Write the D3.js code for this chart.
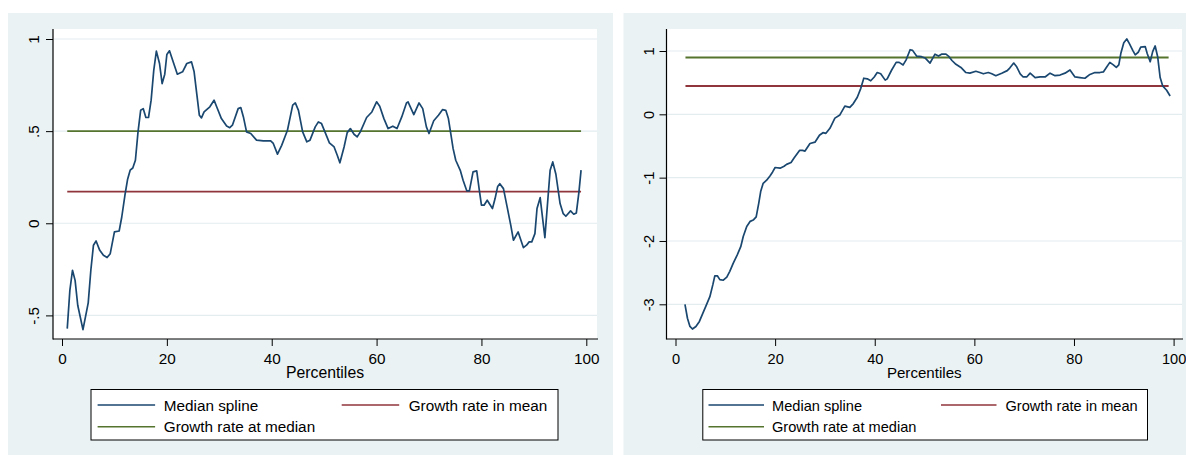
<!DOCTYPE html>
<html><head><meta charset="utf-8">
<script src="https://cdn.jsdelivr.net/npm/d3@7"></script>
<style>
html,body{margin:0;padding:0;background:#fff;}
text{font-family:"Liberation Sans",Arial,Helvetica,sans-serif;fill:#000;}
</style></head>
<body>
<svg id="chart" width="1186" height="455"></svg>
<script>
// ---------- DATA ----------
const leftPct = [1.0,1.5,2.0,2.5,3.0,4.0,5.0,5.5,6.0,6.5,7.2,7.9,8.6,9.2,10.0,10.9,11.4,12.0,12.5,13.0,13.5,14.0,14.5,15.0,15.5,16.0,16.5,17.0,17.5,18.0,18.6,19.1,19.6,20.0,20.5,21.2,22.0,23.0,23.8,24.7,25.2,25.7,26.2,26.6,27.1,28.2,29.0,29.5,30.4,31.4,32.0,32.5,33.6,34.1,34.6,35.2,36.0,37.1,38.4,39.8,40.3,41.1,41.9,43.0,44.0,44.5,45.1,45.9,46.7,47.3,48.3,48.9,49.5,50.4,51.0,51.9,52.5,53.0,53.8,54.4,55.0,55.7,56.3,56.9,58.1,59.1,60.0,60.6,61.4,62.2,63.1,63.9,64.8,65.7,66.0,67.1,68.1,68.8,69.5,70.0,70.9,71.8,72.6,73.2,73.7,74.1,74.6,75.1,76.0,76.5,77.2,77.7,78.4,79.1,79.6,80.0,80.5,81.1,82.1,82.6,83.1,83.5,84.2,84.9,85.6,86.1,87.0,88.0,88.6,89.1,89.6,90.2,90.6,91.2,92.1,93.1,93.6,94.2,95.0,95.6,96.1,97.0,97.6,98.1,98.6,99.0];
const leftMedian = [-0.572,-0.364,-0.255,-0.31,-0.445,-0.577,-0.432,-0.255,-0.119,-0.096,-0.147,-0.174,-0.186,-0.165,-0.047,-0.042,0.034,0.152,0.237,0.288,0.300,0.342,0.496,0.613,0.622,0.574,0.574,0.668,0.83,0.934,0.867,0.758,0.809,0.916,0.936,0.876,0.809,0.822,0.867,0.876,0.822,0.704,0.586,0.572,0.604,0.632,0.668,0.632,0.568,0.528,0.519,0.532,0.622,0.628,0.577,0.496,0.487,0.451,0.447,0.447,0.433,0.375,0.423,0.505,0.641,0.653,0.613,0.496,0.442,0.451,0.523,0.55,0.541,0.478,0.436,0.414,0.369,0.328,0.414,0.492,0.514,0.483,0.469,0.496,0.574,0.604,0.659,0.635,0.568,0.514,0.527,0.514,0.577,0.653,0.659,0.59,0.653,0.622,0.523,0.487,0.556,0.586,0.617,0.613,0.568,0.496,0.405,0.342,0.284,0.233,0.176,0.176,0.279,0.284,0.179,0.098,0.098,0.125,0.08,0.134,0.20,0.215,0.188,0.089,-0.011,-0.092,-0.047,-0.132,-0.119,-0.101,-0.101,-0.056,0.08,0.139,-0.078,0.288,0.333,0.266,0.107,0.052,0.038,0.067,0.049,0.056,0.17,0.288];
const leftMeanRate = 0.172;
const leftMedianRate = 0.5;
const leftRange = [1, 99];
const leftYTicks = [-0.5, 0, 0.5, 1];
const leftYLabels = ["-.5", "0", ".5", "1"];

const rightPct = [1.9,2.4,2.9,3.4,4.1,4.8,5.5,6.1,6.9,7.5,7.9,8.4,8.9,9.6,10.3,10.9,11.6,12.4,13.1,13.6,14.3,15.0,15.6,16.2,16.7,17.1,17.6,18.3,19.0,19.5,20.0,21.0,21.8,22.3,23.2,23.8,24.9,25.5,26.0,27.0,28.0,28.9,29.6,30.2,31.0,32.0,33.0,34.0,35.0,35.7,36.5,37.2,37.8,38.5,39.2,39.9,40.5,41.2,42.1,42.5,43.4,44.3,44.9,45.7,46.3,47.1,47.6,48.4,49.4,50.1,51.1,52.1,52.8,53.4,54.3,54.8,55.5,56.3,57.3,58.3,59.1,60.3,61.1,61.8,62.8,63.5,64.3,65.5,66.6,67.1,67.9,68.5,69.2,69.8,70.5,71.2,72.2,73.2,74.2,75.2,76.2,77.2,78.2,79.2,80.2,81.2,82.2,83.2,84.2,85.2,85.9,86.6,87.2,87.9,88.5,89.0,89.4,90.0,90.6,91.1,91.8,92.3,92.9,93.4,94.3,94.7,95.3,95.8,96.3,96.8,97.3,97.8,98.6,99.3];
const rightMedian = [-3.0,-3.22,-3.35,-3.39,-3.35,-3.27,-3.14,-3.03,-2.88,-2.69,-2.55,-2.55,-2.61,-2.62,-2.57,-2.48,-2.35,-2.22,-2.09,-1.93,-1.77,-1.69,-1.67,-1.62,-1.41,-1.22,-1.09,-1.04,-0.97,-0.91,-0.84,-0.85,-0.82,-0.79,-0.76,-0.69,-0.57,-0.57,-0.58,-0.46,-0.44,-0.33,-0.29,-0.30,-0.22,-0.06,-0.01,0.13,0.11,0.17,0.27,0.41,0.57,0.56,0.53,0.59,0.66,0.64,0.54,0.56,0.70,0.82,0.82,0.78,0.86,1.02,1.01,0.92,0.91,0.89,0.81,0.95,0.92,0.95,0.95,0.92,0.85,0.79,0.74,0.66,0.65,0.68,0.66,0.64,0.66,0.64,0.61,0.65,0.69,0.73,0.81,0.75,0.64,0.59,0.59,0.65,0.58,0.59,0.59,0.65,0.61,0.62,0.65,0.70,0.59,0.58,0.57,0.63,0.66,0.66,0.67,0.75,0.82,0.78,0.74,0.78,0.96,1.13,1.19,1.12,1.01,0.94,0.98,1.06,1.07,0.96,0.83,0.99,1.08,0.91,0.58,0.45,0.38,0.29];
const rightMeanRate = 0.447;
const rightMedianRate = 0.897;
const rightRange = [2, 99];
const rightYTicks = [-3, -2, -1, 0, 1];
const rightYLabels = ["-3", "-2", "-1", "0", "1"];

const xTicks = [0, 20, 40, 60, 80, 100];
const xTitle = "Percentiles";
const legendLabels = ["Median spline", "Growth rate in mean", "Growth rate at median"];

// ---------- STYLE ----------
const C = {bg:"#eaf2f3", grid:"#e3ecef", navy:"#1a476f", maroon:"#90353b", green:"#55752f"};

const svg = d3.select("#chart");

function panel(o) {
  const g = svg.append("g");
  g.append("rect").attr("x", o.bg[0]).attr("y", o.bg[1]).attr("width", o.bg[2]).attr("height", o.bg[3]).attr("fill", C.bg);
  g.append("rect").attr("x", o.plot.l).attr("y", o.plot.t).attr("width", o.plot.r - o.plot.l).attr("height", o.plot.b - o.plot.t).attr("fill", "#fff");

  const x = d3.scaleLinear().domain([0, 100]).range(o.xr);
  const y = d3.scaleLinear().domain(o.yd).range(o.yr);

  // gridlines
  g.selectAll(".grid").data(o.yTicks).join("line")
    .attr("x1", o.plot.l + 1).attr("x2", o.plot.r)
    .attr("y1", d => y(d)).attr("y2", d => y(d))
    .attr("stroke", C.grid).attr("stroke-width", 1.2);

  // axes
  const yAxis = d3.axisLeft(y).tickValues(o.yTicks).tickSize(7).tickSizeOuter(0)
    .tickFormat((d, i) => o.yLabels[i]);
  const ga = g.append("g").attr("transform", `translate(${o.plot.l},0)`).call(yAxis);
  ga.select(".domain").remove();
  ga.selectAll("line").attr("stroke", "#000");
  ga.selectAll("text").attr("transform", "rotate(-90)").attr("x", 0).attr("y", -o.ylabGap)
    .attr("dy", 0).attr("text-anchor", "middle").style("font-size", o.fs + "px")
    .style("font-family", '"Liberation Sans",Arial,sans-serif');

  const xAxis = d3.axisBottom(x).tickValues(xTicks).tickSize(7).tickSizeOuter(0);
  const gx = g.append("g").attr("transform", `translate(0,${o.plot.b})`).call(xAxis);
  gx.select(".domain").remove();
  gx.selectAll("line").attr("stroke", "#000");
  gx.selectAll("text").attr("y", 0).attr("dy", 0).attr("transform", "translate(0,24.5)")
    .style("font-size", o.fs + "px").style("font-family", '"Liberation Sans",Arial,sans-serif');

  g.append("line").attr("x1", o.plot.l).attr("x2", o.plot.l).attr("y1", o.plot.t).attr("y2", o.plot.b + 0.5)
    .attr("stroke", "#000").attr("stroke-width", 1.2);
  g.append("line").attr("x1", o.plot.l).attr("x2", o.plot.r + 1).attr("y1", o.plot.b).attr("y2", o.plot.b)
    .attr("stroke", "#000").attr("stroke-width", 1.2);

  g.append("text").attr("x", (o.plot.l + o.plot.r) / 2).attr("y", 378).attr("text-anchor", "middle")
    .style("font-size", (o.fs + 0.5) + "px").text(xTitle);

  // reference lines
  const hl = (v, col) => g.append("line")
    .attr("x1", x(o.range[0])).attr("x2", x(o.range[1]))
    .attr("y1", y(v)).attr("y2", y(v))
    .attr("stroke", col).attr("stroke-width", 1.8);
  hl(o.medRate, C.green);
  hl(o.meanRate, C.maroon);

  // median spline
  const pts = o.pct.map((p, i) => [p, o.val[i]]);
  g.append("path").datum(pts)
    .attr("d", d3.line().x(d => x(d[0])).y(d => y(d[1])))
    .attr("fill", "none").attr("stroke", C.navy).attr("stroke-width", 1.7).attr("stroke-linejoin", "round");

  // legend
  const L = o.leg;
  g.append("rect").attr("x", L.x).attr("y", 389.5).attr("width", L.w).attr("height", 50.5)
    .attr("fill", "#fff").attr("stroke", "#000").attr("stroke-width", 1);
  const items = [
    {lx: L.l1, tx: L.t1, yy: 405, col: C.navy, lab: legendLabels[0]},
    {lx: L.l2, tx: L.t2, yy: 405, col: C.maroon, lab: legendLabels[1]},
    {lx: L.l1, tx: L.t1, yy: 426.7, col: C.green, lab: legendLabels[2]}
  ];
  items.forEach(it => {
    g.append("line").attr("x1", it.lx).attr("x2", it.lx + L.len).attr("y1", it.yy).attr("y2", it.yy)
      .attr("stroke", it.col).attr("stroke-width", 1.6);
    g.append("text").attr("x", it.tx).attr("y", it.yy + 5.5).style("font-size", o.fs + "px").text(it.lab);
  });
}

panel({
  bg: [8, 13, 605, 442],
  plot: {l: 53, r: 597, t: 29, b: 339},
  xr: [62, 586.3], yd: [-0.5, 1], yr: [315.4, 39],
  yTicks: leftYTicks, yLabels: leftYLabels, ylabGap: 14.5, fs: 15.3,
  range: leftRange, meanRate: leftMeanRate, medRate: leftMedianRate,
  pct: leftPct, val: leftMedian,
  leg: {x: 91, w: 467, l1: 97.6, t1: 163.8, l2: 341.7, t2: 408.7, len: 57.5}
});

panel({
  bg: [623.5, 13, 562.5, 442],
  plot: {l: 666.5, r: 1182, t: 29, b: 339},
  xr: [675.5, 1173.6], yd: [-3, 1], yr: [304.3, 51],
  yTicks: rightYTicks, yLabels: rightYLabels, ylabGap: 12.5, fs: 14.6,
  range: rightRange, meanRate: rightMeanRate, medRate: rightMedianRate,
  pct: rightPct, val: rightMedian,
  leg: {x: 702.8, w: 444.7, l1: 708.5, t1: 772, l2: 941, t2: 1005.5, len: 55.5}
});
</script>
</body></html>
